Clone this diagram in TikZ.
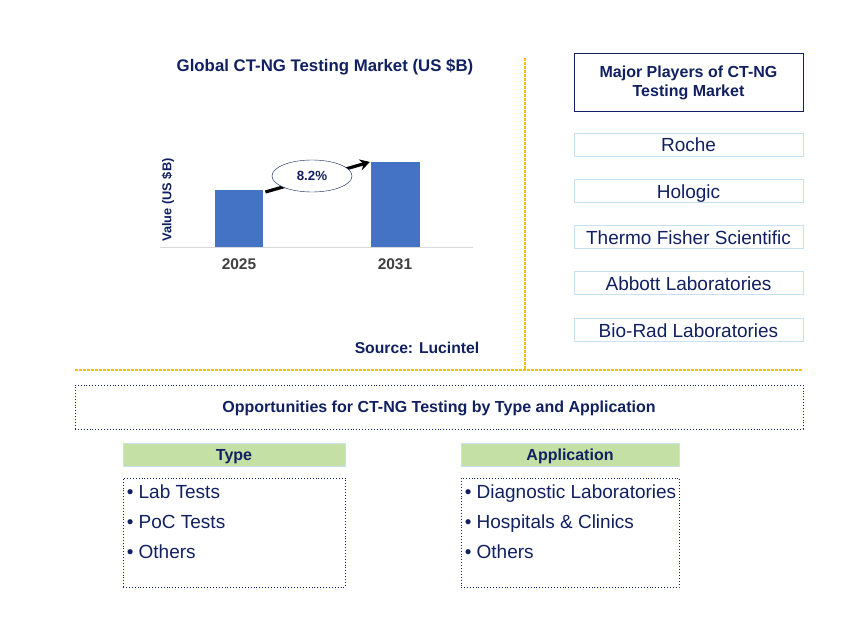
\documentclass[tikz,border=0pt]{standalone}
\usepackage{fontspec}
\setmainfont{Liberation Sans}
\usetikzlibrary{arrows.meta,shapes.geometric}
\definecolor{navy}{RGB}{16,32,96}
\definecolor{barblue}{RGB}{68,114,196}
\definecolor{sepgold}{RGB}{255,192,0}
\definecolor{lblue}{RGB}{200,225,242}
\definecolor{lgreen}{RGB}{197,224,165}
\definecolor{axgray}{RGB}{217,217,217}
\definecolor{tgray}{RGB}{64,64,64}
\tikzset{
  px/.style={x=1pt,y=-1pt},
  sepline/.style={color=sepgold,dash pattern=on 3pt off 1pt,line width=1.1pt},
  bar/.style={fill=barblue,draw=none},
  player/.style={draw=lblue,line width=1pt,minimum width=229pt,minimum height=23pt,inner sep=0pt,text height=13.6pt,text depth=0pt,text=navy,font=\fontsize{19}{22}\selectfont},
  ttl/.style={text=navy,font=\bfseries\fontsize{16}{19}\selectfont},
  hdr/.style={fill=lgreen,draw=lblue,line width=0.6pt,minimum height=23pt,inner sep=0pt,text height=11.5pt,text depth=0pt,text=navy,font=\bfseries\fontsize{16}{19}\selectfont},
  dotbox/.style={draw=navy,dotted,line width=0.9pt},
  item/.style={anchor=base west,text=navy,inner sep=0pt,font=\fontsize{19}{22}\selectfont},
}
\begin{document}
\begin{tikzpicture}[px]
\useasboundingbox (0,0) rectangle (868,628);
% separators
\draw[sepline] (525,58) -- (525,369);
\draw[sepline,line width=1.3pt] (75,370) -- (803,370);
% chart
\node[ttl,font=\bfseries\fontsize{16.8}{20}\selectfont] (title) at (325,67) {Global CT-NG Testing Market (US \$B)};
\draw[axgray,line width=0.8pt] (160,247) -- (473,247);
\node[bar,anchor=north west,minimum width=48pt,minimum height=57pt,inner sep=0pt] (bar1) at (215,190) {};
\node[bar,anchor=north west,minimum width=49pt,minimum height=85pt,inner sep=0pt] (bar2) at (371,162) {};
\node[rotate=90,text=navy,font=\bfseries\fontsize{12.8}{15}\selectfont] (ylab) at (168,200) {Value (US \$B)};
\node[text=tgray,font=\bfseries\fontsize{15.5}{18}\selectfont] (y1) at (239,264) {2025};
\node[text=tgray,font=\bfseries\fontsize{15.5}{18}\selectfont] (y2) at (395,264) {2031};
\draw[line width=3.2pt,-{Stealth[length=10pt,width=11pt]}] ([xshift=2pt,yshift=-2pt]bar1.north east) -- ([xshift=-1pt]bar2.north west);
\node[draw=navy,fill=white,ellipse,minimum width=80pt,minimum height=32pt,inner sep=0pt,text=navy,font=\bfseries\fontsize{13.3}{16}\selectfont] (cagr) at (312,176) {8.2\%};
\node[ttl,font=\bfseries\fontsize{15.7}{19}\selectfont] (src) at (417,348) {Source: Lucintel};
% players
\node[draw=navy,line width=1pt,minimum width=229pt,minimum height=58pt,inner sep=0pt,align=center,ttl] (mp) at (688.5,83) {Major Players of CT-NG\\Testing Market};
\node[player] (p1) at (688.5,145) {Roche};
\node[player] (p2) at (688.5,191.5) {Hologic};
\node[player] (p3) at (688.5,237.5) {Thermo Fisher Scientific};
\node[player] (p4) at (688.5,283.5) {Abbott Laboratories};
\node[player] (p5) at (688.5,330.5) {Bio-Rad Laboratories};
% opportunities
\node[dotbox,minimum width=728pt,minimum height=44pt,inner sep=0pt,text height=11.5pt,text depth=0pt,ttl] (opp) at (439,407) {Opportunities for CT-NG Testing by Type and Application};
\node[hdr,minimum width=222pt] (th) at (234,454.5) {Type};
\node[hdr,minimum width=218pt] (ah) at (570,454.5) {Application};
\node[dotbox,minimum width=222pt,minimum height=109pt,inner sep=0pt] (tb) at (234,532.5) {};
\node[dotbox,minimum width=218pt,minimum height=109pt,inner sep=0pt] (ab) at (570,532.5) {};
\node[item] (t1) at ([xshift=4pt]tb.west |- 0,498) {• Lab Tests};
\node[item] (t2) at ([xshift=4pt]tb.west |- 0,528) {• PoC Tests};
\node[item] (t3) at ([xshift=4pt]tb.west |- 0,558) {• Others};
\node[item] (a1) at ([xshift=4pt]ab.west |- 0,498) {• Diagnostic Laboratories};
\node[item] (a2) at ([xshift=4pt]ab.west |- 0,528) {• Hospitals \& Clinics};
\node[item] (a3) at ([xshift=4pt]ab.west |- 0,558) {• Others};
\end{tikzpicture}
\end{document}
